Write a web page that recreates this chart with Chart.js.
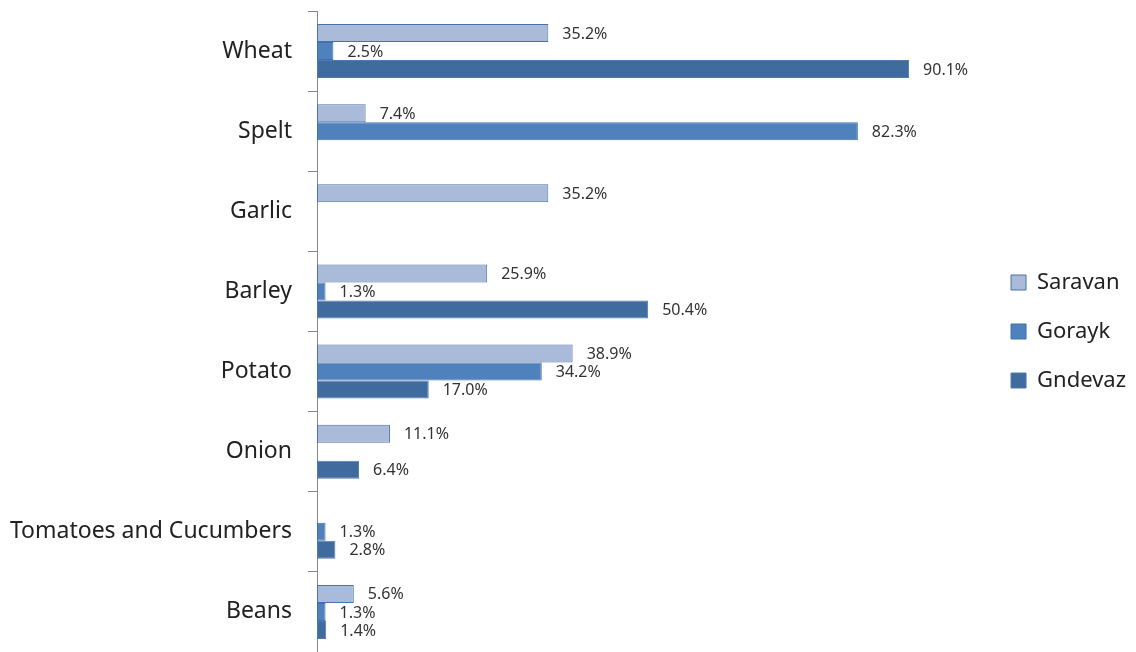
<!DOCTYPE html>
<html>
<head>
<meta charset="utf-8">
<script src="https://cdn.jsdelivr.net/npm/chart.js@4"></script>
<style>
  html, body { margin: 0; padding: 0; background: #fff; }
  #wrap { width: 1136px; height: 652px; }
</style>
</head>
<body>
<div id="wrap"><canvas id="grafico"></canvas></div>
<script>
const cultivos = ["Wheat", "Spelt", "Garlic", "Barley", "Potato", "Onion", "Tomatoes and Cucumbers", "Beans"];
const saravan = [35.2, 7.4, 35.2, 25.9, 38.9, 11.1, null, 5.6];
const gorayk = [2.5, 82.3, null, 1.3, 34.2, null, 1.3, 1.3];
const gndevaz = [90.1, null, null, 50.4, 17.0, 6.4, 2.8, 1.4];

// etiquetas de valor a la derecha de cada barra
const etiquetas = {
  id: "etiquetas",
  afterDatasetsDraw(chart) {
    const ctx = chart.ctx;
    ctx.save();
    ctx.font = "16px 'Noto Sans'";
    ctx.fillStyle = "#333";
    ctx.textAlign = "left";
    ctx.textBaseline = "middle";
    chart.data.datasets.forEach((ds, i) => {
      const meta = chart.getDatasetMeta(i);
      meta.data.forEach((bar, j) => {
        const v = ds.data[j];
        if (v === null) return;
        ctx.fillText(v.toFixed(1) + "%", bar.x + 14, bar.y + 1);
      });
    });
    ctx.restore();
  }
};

const ctx = document.getElementById("grafico").getContext("2d");

new Chart(ctx, {
  type: "bar",
  data: {
    labels: cultivos,
    datasets: [
      {
        label: "Saravan",
        data: saravan,
        backgroundColor: "#aabad9",
        borderColor: "#4a72a8",
        borderWidth: 1,
        borderSkipped: false
      },
      {
        label: "Gorayk",
        data: gorayk,
        backgroundColor: "#4f81bd",
        borderColor: "#3f70ab",
        borderWidth: 1,
        borderSkipped: false
      },
      {
        label: "Gndevaz",
        data: gndevaz,
        backgroundColor: "#406b9e",
        borderColor: "#5079ad",
        borderWidth: 1,
        borderSkipped: false
      }
    ]
  },
  options: {
    indexAxis: "y",
    responsive: true,
    maintainAspectRatio: false,
    animation: false,
    categoryPercentage: 0.675,
    barPercentage: 1.0,
    layout: { padding: { top: 11, bottom: 0, left: 0, right: 0 } },
    plugins: {
      legend: {
        position: "right",
        labels: {
          boxWidth: 15,
          boxHeight: 15,
          padding: 27,
          color: "#222",
          font: { family: "'Noto Sans'", size: 22 }
        }
      },
      tooltip: { enabled: false }
    },
    scales: {
      x: {
        display: false,
        min: 0,
        max: 101.5
      },
      y: {
        afterFit(scale) {
          scale.width = 317;
          scale.paddingTop = 0;
          scale.paddingBottom = 0;
        },
        grid: {
          drawOnChartArea: false,
          tickLength: 9,
          color: "#888"
        },
        border: { color: "#888" },
        ticks: {
          color: "#222",
          padding: 16,
          font: { family: "'Noto Sans'", size: 23 }
        }
      }
    }
  },
  plugins: [etiquetas]
});
</script>
</body>
</html>
